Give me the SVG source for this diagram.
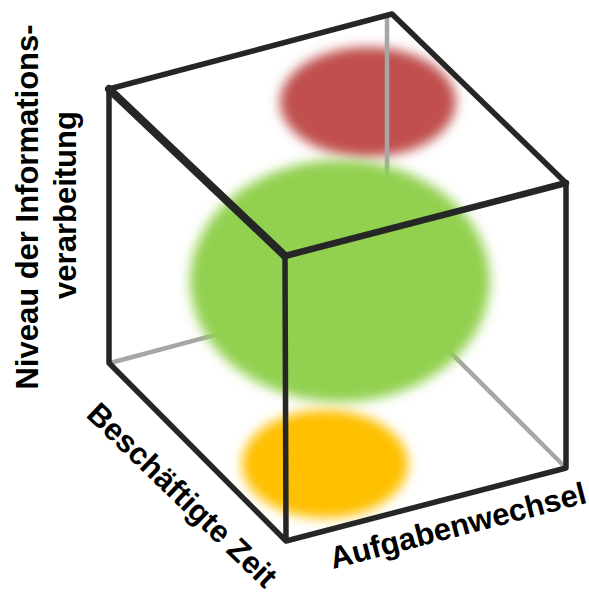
<svg xmlns="http://www.w3.org/2000/svg" width="589" height="593" viewBox="0 0 589 593">
<defs>
<filter id="blur" x="-30%" y="-30%" width="160%" height="160%"><feGaussianBlur stdDeviation="6"/></filter>
<style>
.lbl{font-family:"Liberation Sans",Arial,sans-serif;font-weight:bold;font-size:31px;fill:#000}
.edge{stroke:#262626;stroke-linecap:round;stroke-linejoin:round;fill:none}
.hid{stroke:#a6a6a6;stroke-width:4.5;fill:none}
</style>
</defs>
<rect width="589" height="593" fill="#fff"/>
<g id="red"><ellipse cx="368" cy="102" rx="88" ry="55" fill="#c0504d" filter="url(#blur)"/></g>
<g id="hidden-edges">
<line class="hid" x1="387" y1="16" x2="387" y2="289"/>
<line class="hid" x1="110" y1="363" x2="387" y2="289"/>
<line class="hid" x1="565" y1="467" x2="387" y2="289"/>
</g>
<g id="green"><ellipse cx="340" cy="281" rx="150" ry="121" fill="#92d050" filter="url(#blur)"/></g>
<g id="yellow"><ellipse cx="325" cy="464" rx="83" ry="54" fill="#ffc000" filter="url(#blur)"/></g>
<g id="cube">
<path class="edge" stroke-width="5.5" d="M109,89 L392,14 L566,183 M109,89 L109,363 L286,541 L566,468 L566,183 M285,256 L286,541"/>
<line class="edge" stroke-width="8" x1="109" y1="89" x2="285" y2="256"/>
<line class="edge" stroke-width="6.5" x1="285" y1="256" x2="566" y2="183"/>
</g>
<g id="labels">
<text class="lbl" text-anchor="middle" transform="translate(38,207) rotate(-90)" font-size="31.5">Niveau der Informations-</text>
<text class="lbl" text-anchor="middle" transform="translate(76,205) rotate(-90)">verarbeitung</text>
<text class="lbl" transform="translate(85,416) rotate(44)" font-size="30.5">Beschäftigte Zeit</text>
<text class="lbl" transform="translate(333,569) rotate(-14.6)" font-size="29.5">Aufgabenwechsel</text>
</g>
</svg>
